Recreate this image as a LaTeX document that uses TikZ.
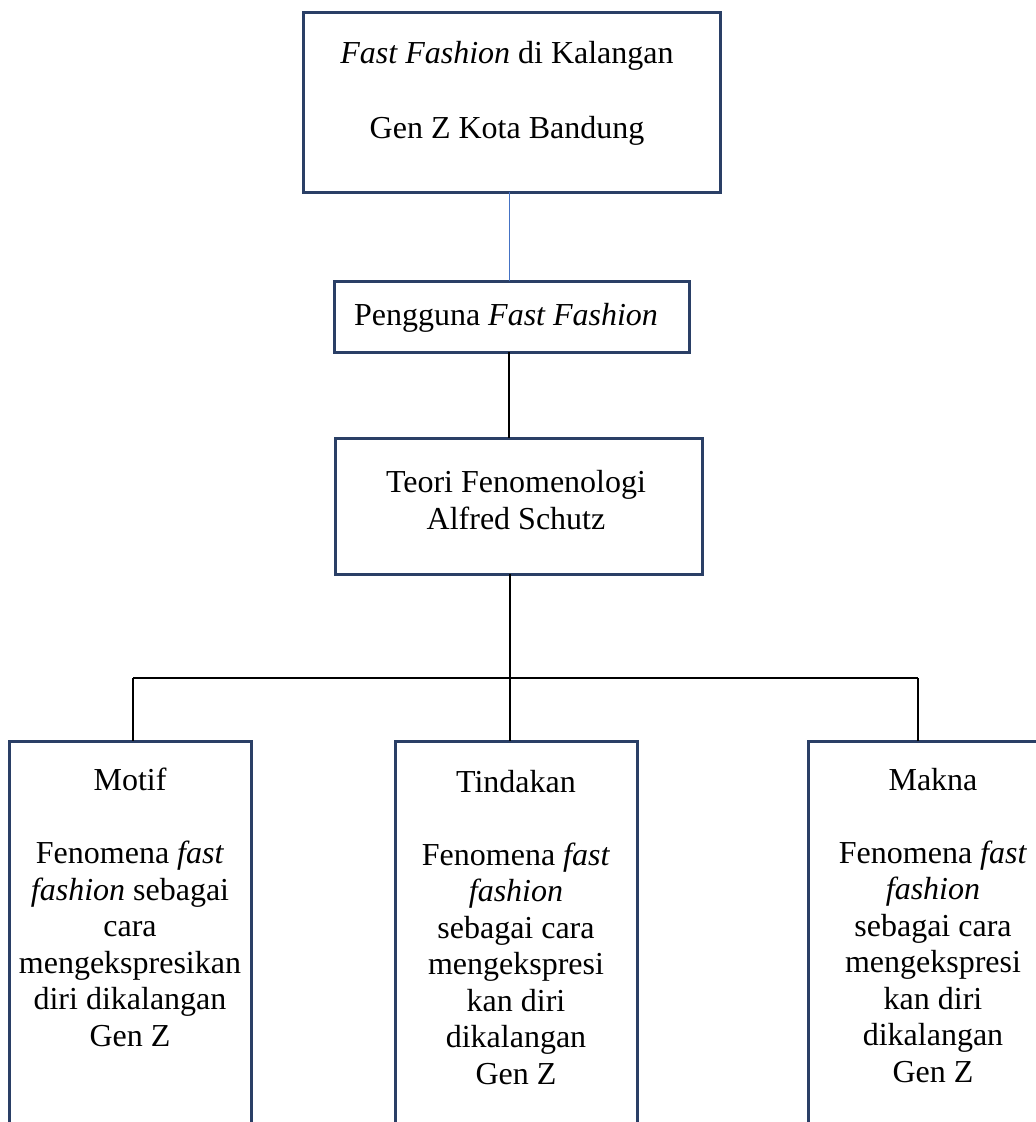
\documentclass[tikz,border=0pt]{standalone}
\usepackage{fontspec}
\setmainfont{Liberation Serif}
\definecolor{boxline}{HTML}{2A3F66}
\definecolor{blueline}{HTML}{4472C4}
\begin{document}
\begin{tikzpicture}[x=1pt,y=1pt,
  box/.style={draw=boxline,line width=3pt,rectangle,inner sep=0pt,outer sep=0pt},
  txt/.style={anchor=base,align=center,inner sep=0pt,font=\fontsize{32}{36.5}\selectfont},
  conn/.style={draw=black,line width=1.3pt},
  connb/.style={draw=blueline,line width=1pt}]
\useasboundingbox (0,0) rectangle (1036,-1122);
\clip (0,0) rectangle (1036,-1122);
% boxes
\node[box,minimum width=417,minimum height=180] (top) at (511.5,-102) {};
\node[box,minimum width=355,minimum height=71] (peng) at (511.5,-316.5) {};
\node[box,minimum width=367,minimum height=136] (teori) at (518.5,-506) {};
\node[box,minimum width=242,minimum height=419] (motif) at (130,-950.5) {};
\node[box,minimum width=242,minimum height=419] (tind) at (516,-950.5) {};
\node[box,minimum width=242,minimum height=419] (makna) at (929,-950.5) {};
% texts (anchor base = baseline of last line)
\node[txt] (ttop) at (507,-138) {\textit{Fast Fashion} di Kalangan\\[38.5pt]Gen Z Kota Bandung};
\node[txt] (tpeng) at (506,-325) {Pengguna \textit{Fast Fashion}};
\node[txt] (tteori) at (516,-529) {Teori Fenomenologi\\Alfred Schutz};
\node[txt] (tmotif) at (130,-1046) {Motif\\[36.5pt]Fenomena \textit{fast}\\\textit{fashion} sebagai\\cara\\mengekspresikan\\diri dikalangan\\Gen Z};
\node[txt] (ttind) at (516,-1084) {Tindakan\\[36.5pt]Fenomena \textit{fast}\\\textit{fashion}\\sebagai cara\\mengekspresi\\kan diri\\dikalangan\\Gen Z};
\node[txt] (tmakna) at (933,-1082) {Makna\\[36.5pt]Fenomena \textit{fast}\\\textit{fashion}\\sebagai cara\\mengekspresi\\kan diri\\dikalangan\\Gen Z};
% connectors
\coordinate (c1) at (509,-240);
\coordinate (hl) at (133,-678);
\coordinate (hm) at (510,-678);
\coordinate (hr) at (918,-678);
\draw[connb] (top.south -| c1) -- (peng.north -| c1);
\draw[conn] (peng.south -| c1) -- (teori.north -| c1);
\draw[conn] (teori.south -| hm) -- (hm);
\draw[conn] (hl) -- (hr);
\draw[conn] (hl) -- (motif.north -| hl);
\draw[conn] (hm) -- (tind.north -| hm);
\draw[conn] (hr) -- (makna.north -| hr);
\end{tikzpicture}
\end{document}
